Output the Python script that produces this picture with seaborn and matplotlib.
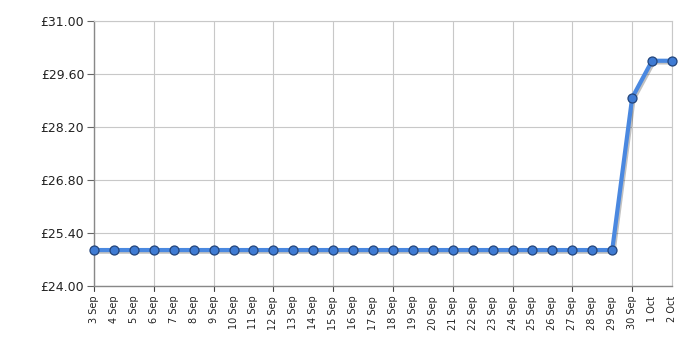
import matplotlib
matplotlib.use("Agg")
import matplotlib.pyplot as plt
import matplotlib.patheffects as pe
import seaborn as sns
import pandas as pd
import numpy as np

dates = ["3 Sep", "4 Sep", "5 Sep", "6 Sep", "7 Sep", "8 Sep", "9 Sep", "10 Sep",
         "11 Sep", "12 Sep", "13 Sep", "14 Sep", "15 Sep", "16 Sep", "17 Sep",
         "18 Sep", "19 Sep", "20 Sep", "21 Sep", "22 Sep", "23 Sep", "24 Sep",
         "25 Sep", "26 Sep", "27 Sep", "28 Sep", "29 Sep", "30 Sep", "1 Oct", "2 Oct"]
prices = [24.95] * 27 + [28.97, 29.95, 29.95]
y_ticks = [24.00, 25.40, 26.80, 28.20, 29.60, 31.00]

sns.set_style("white")
plt.rcParams['font.family'] = ['DejaVu Sans']

df = pd.DataFrame({"idx": np.arange(len(dates)), "price": prices})

fig = plt.figure(figsize=(7, 3.5), dpi=100)
ax = fig.add_axes([94/700, 1 - 286/350, (672 - 94)/700, (286 - 21)/350])

# line with shadow
sns.lineplot(data=df, x="idx", y="price", ax=ax, color="#4a88e0", linewidth=3.0,
             path_effects=[pe.SimpleLineShadow(offset=(1.0, -1.2), shadow_color="#222222", alpha=0.28),
                           pe.Normal()], zorder=3)
# markers
sns.scatterplot(data=df, x="idx", y="price", ax=ax, s=42, color="#3f7bd3",
                edgecolor="#22447a", linewidth=0.9, zorder=4, clip_on=False)

ax.set_xlim(0, len(dates) - 1)
ax.set_ylim(24, 31)
ax.set_yticks(y_ticks)
ax.set_yticklabels([f"£{v:.2f}" for v in y_ticks], fontsize=9, color="#222222")

major = list(range(0, len(dates), 3))
ax.set_xticks(np.arange(len(dates)))
ax.set_xticklabels(dates, rotation=90, fontsize=7, color="#222222")
ax.set_xlabel("")
ax.set_ylabel("")

for v in y_ticks:
    ax.axhline(v, color="#c8c8c8", linewidth=0.8, zorder=0)
for i in major:
    ax.axvline(i, color="#c8c8c8", linewidth=0.8, zorder=0)
ax.axvline(len(dates) - 1, color="#c8c8c8", linewidth=0.8, zorder=0)

ax.tick_params(axis="x", length=0, pad=7)
ax.tick_params(axis="y", length=5, width=0.8, color="#666666", pad=2, left=True)
for i in major:
    ax.plot([i, i], [0, -0.02], transform=ax.get_xaxis_transform(), color="#444444",
            linewidth=0.8, clip_on=False)

for side in ["top", "right"]:
    ax.spines[side].set_visible(True)
    ax.spines[side].set_color("#c8c8c8")
    ax.spines[side].set_linewidth(0.8)
for side in ["left", "bottom"]:
    ax.spines[side].set_color("#888888")
    ax.spines[side].set_linewidth(1.0)

fig.savefig("out.png", dpi=100)
